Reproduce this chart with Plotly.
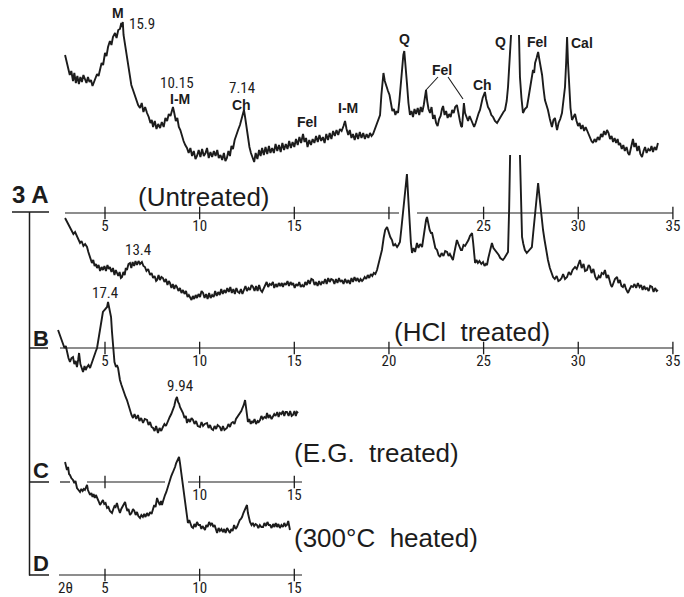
import plotly.graph_objects as go

W, H = 684, 597

# ---------------- data: 2-theta (deg) and intensity above each panel's base line ----------------
a_2theta = [2.89,2.98,3.06,3.14,3.22,3.31,3.38,3.46,3.54,3.62,3.70,3.78,3.86,3.94,4.02,4.10,4.18,4.26,4.34,4.42,
 4.50,4.58,4.66,4.74,4.82,4.90,5.00,5.08,5.16,5.26,5.34,5.42,5.53,5.61,5.70,5.79,5.86,5.90,5.94,5.98,
 6.06,6.13,6.21,6.30,6.39,6.48,6.57,6.66,6.75,6.85,6.94,7.03,7.12,7.22,7.31,7.40,7.47,7.54,7.63,7.72,
 7.81,7.91,8.00,8.10,8.19,8.28,8.37,8.46,8.52,8.59,8.66,8.74,8.82,8.90,8.98,9.06,9.15,9.24,9.33,9.42,
 9.51,9.60,9.69,9.78,9.86,9.95,10.04,10.13,10.22,10.31,10.39,10.48,10.57,10.66,10.75,10.84,10.93,11.01,11.10,11.19,
 11.28,11.36,11.44,11.52,11.60,11.68,11.76,11.85,11.94,12.03,12.13,12.22,12.29,12.34,12.40,12.47,12.55,12.63,12.71,12.80,
 12.88,12.96,13.05,13.14,13.22,13.30,13.39,13.48,13.57,13.66,13.74,13.83,13.92,14.01,14.10,14.19,14.28,14.37,14.46,14.55,
 14.64,14.73,14.82,14.91,15.00,15.09,15.18,15.27,15.36,15.46,15.54,15.62,15.70,15.79,15.88,15.97,16.06,16.15,16.24,16.33,
 16.42,16.51,16.60,16.69,16.78,16.87,16.96,17.05,17.14,17.23,17.32,17.41,17.50,17.60,17.68,17.76,17.85,17.93,18.02,18.10,
 18.19,18.28,18.37,18.46,18.55,18.64,18.73,18.82,18.91,19.00,19.08,19.16,19.25,19.34,19.43,19.53,19.60,19.66,19.71,19.78,
 19.86,19.95,20.03,20.10,20.18,20.26,20.34,20.41,20.48,20.55,20.63,20.70,20.76,20.81,20.87,20.95,21.03,21.11,21.19,21.27,
 21.35,21.43,21.52,21.60,21.68,21.76,21.84,21.91,21.96,22.02,22.09,22.17,22.25,22.33,22.41,22.49,22.57,22.65,22.73,22.80,
 22.86,22.94,23.02,23.10,23.18,23.26,23.34,23.42,23.50,23.59,23.67,23.75,23.81,23.86,23.91,23.96,24.02,24.10,24.18,24.26,
 24.34,24.42,24.50,24.58,24.66,24.74,24.81,24.88,24.95,25.01,25.07,25.13,25.23,25.32,25.41,25.50,25.60,25.71,25.80,25.88,
 25.96,26.05,26.13,26.22,26.29,26.37,26.45,None,26.87,26.92,27.00,27.08,27.18,27.29,27.37,27.45,27.53,27.61,27.67,27.72,
 27.80,27.88,27.96,28.03,28.09,28.16,28.24,28.32,28.40,28.50,28.61,28.69,28.77,28.83,28.88,28.96,29.05,29.14,29.22,29.30,
 29.36,29.41,29.46,29.51,29.59,29.67,29.75,29.83,29.91,29.99,30.07,30.15,30.23,30.31,30.39,30.46,30.54,30.62,30.70,30.78,
 30.86,30.94,31.03,31.12,31.20,31.28,31.36,31.44,31.52,31.60,31.68,31.76,31.84,31.92,32.00,32.08,32.14,32.21,32.30,32.38,
 32.46,32.55,32.63,32.70,32.76,32.82,32.89,32.96,33.04,33.12,33.20,33.28,33.37,33.45,33.53,33.61,33.70,33.79,33.87,33.95,
 34.03,34.12,34.21]
a_int = [158,150,146,138,142,132,140,130,137,129,136,131,138,133,130,136,131,133,127,131,
 136,139,137,144,150,148,160,157,166,172,168,176,180,175,183,184,190,186,191,178,
 168,158,146,136,128,123,118,112,108,105,110,101,106,100,96,90,93,86,92,84,
 89,85,91,86,95,92,99,97,102,106,100,92,95,86,83,77,72,68,65,60,
 65,57,62,54,57,63,56,64,57,60,65,55,61,56,62,57,63,55,58,53,
 60,52,55,62,57,67,64,73,79,83,88,95,100,103,96,86,75,66,60,55,
 51,60,54,63,57,65,58,66,59,67,60,65,60,69,62,68,61,70,63,69,
 64,72,65,71,66,74,68,76,70,79,71,75,66,73,68,74,70,77,71,78,
 72,76,70,79,73,80,74,82,77,83,78,84,82,87,92,84,78,83,75,79,
 73,80,74,81,75,80,74,79,75,80,77,79,84,88,92,98,118,135,140,132,
 126,122,118,108,102,104,98,102,100,112,132,148,158,162,150,130,110,98,102,96,
 104,99,105,98,106,101,108,116,123,112,104,100,106,94,98,90,87,94,97,104,
 107,98,102,95,99,96,103,100,106,108,98,92,87,86,98,110,100,95,92,97,
 93,88,86,90,96,100,103,110,115,118,121,114,106,103,98,96,92,90,93,96,
 99,101,103,112,126,150,178,None,178,136,115,100,104,106,115,126,135,143,140,150,
 155,161,152,145,138,125,113,108,103,94,86,93,95,88,83,90,94,100,112,126,
 150,176,150,126,105,93,96,99,92,87,90,84,88,82,86,83,78,75,72,70,
 74,71,76,73,79,76,82,78,83,80,74,77,71,75,70,74,68,70,64,68,
 62,66,60,58,64,70,74,66,70,62,67,59,56,62,66,60,64,62,67,61,
 66,63,70]

b_2theta = [2.89,2.97,3.05,3.15,3.24,3.33,3.42,3.52,3.60,3.68,3.76,3.86,3.95,4.05,4.12,4.19,4.25,4.31,4.38,4.45,
 4.52,4.58,4.66,4.74,4.82,4.89,4.97,5.05,5.13,5.20,5.26,5.34,5.42,5.50,5.57,5.63,5.70,5.77,5.84,5.90,
 5.97,6.04,6.10,6.16,6.24,6.32,6.39,6.46,6.54,6.61,6.69,6.77,6.85,6.95,7.03,7.11,7.19,7.28,7.38,7.46,
 7.54,7.62,7.70,7.75,7.83,7.90,7.98,8.06,8.14,8.22,8.30,8.37,8.43,8.51,8.58,8.66,8.73,8.80,8.88,8.96,
 9.04,9.12,9.20,9.28,9.36,9.43,9.49,9.57,9.64,9.71,9.79,9.86,9.94,10.02,10.10,10.18,10.26,10.34,10.42,10.50,
 10.58,10.66,10.74,10.82,10.90,10.98,11.06,11.14,11.22,11.30,11.38,11.46,11.54,11.62,11.70,11.78,11.86,11.94,12.02,12.10,
 12.18,12.26,12.34,12.42,12.50,12.58,12.66,12.74,12.82,12.90,12.98,13.06,13.14,13.22,13.30,13.38,13.46,13.54,13.62,13.70,
 13.78,13.87,13.94,14.02,14.10,14.18,14.26,14.34,14.40,14.48,14.56,14.64,14.72,14.80,14.88,14.94,15.02,15.10,15.18,15.26,
 15.34,15.42,15.50,15.58,15.66,15.74,15.82,15.90,15.99,16.07,16.15,16.23,16.31,16.39,16.47,16.55,16.63,16.71,16.79,16.87,
 16.95,17.04,17.12,17.20,17.28,17.36,17.44,17.52,17.60,17.68,17.78,17.86,17.94,18.02,18.10,18.18,18.26,18.34,18.42,18.50,
 18.58,18.63,18.72,18.80,18.88,18.96,19.04,19.12,19.20,19.28,19.37,19.46,19.55,19.63,19.72,19.80,19.90,19.98,20.07,20.16,
 20.24,20.33,20.43,20.50,20.58,20.66,20.74,20.80,20.88,20.95,21.02,21.09,21.16,21.22,21.30,21.38,21.48,21.56,21.65,21.75,
 21.82,21.90,21.96,22.01,22.08,22.15,22.22,22.28,22.36,22.45,22.54,22.62,22.70,22.78,22.88,22.97,23.07,23.15,23.22,23.30,
 23.38,23.45,23.52,23.59,23.67,23.74,23.80,23.86,23.94,24.02,24.12,24.20,24.28,24.35,24.39,24.45,24.50,24.55,24.62,24.70,
 24.78,24.88,24.97,25.05,25.12,25.18,25.25,25.33,25.38,25.44,25.52,25.60,25.71,25.80,25.88,25.95,26.02,26.10,26.18,26.25,
 26.29,26.35,26.40,None,26.92,26.97,27.03,27.10,27.18,27.28,27.36,27.45,27.55,27.62,27.68,27.72,27.80,27.88,27.96,28.05,
 28.14,28.22,28.30,28.40,28.50,28.58,28.67,28.76,28.86,28.95,29.04,29.12,29.20,29.30,29.41,29.50,29.60,29.70,29.83,29.92,
 30.00,30.09,30.18,30.28,30.36,30.46,30.55,30.62,30.70,30.80,30.90,30.99,31.08,31.16,31.24,31.33,31.41,31.50,31.58,31.66,
 31.72,31.78,31.86,31.94,32.05,32.12,32.20,32.28,32.36,32.44,32.52,32.58,32.63,32.72,32.80,32.89,32.97,33.06,33.15,33.24,
 33.32,33.40,33.48,33.55,33.63,33.72,33.80,33.90,33.98,34.06,34.14,34.21]
b_int = [130,127,124,121,118,114,116,111,108,105,107,102,104,101,96,92,88,85,88,82,
 84,80,83,77,81,78,82,77,83,79,81,76,80,73,78,75,72,76,70,71,
 76,73,80,78,84,85,80,86,82,87,83,87,84,86,82,81,77,79,73,75,
 70,72,67,68,73,68,71,70,66,69,63,67,65,60,64,59,63,61,57,60,
 55,58,54,57,51,53,51,48,52,49,53,50,54,51,57,55,50,54,49,55,
 50,53,51,57,52,56,53,59,54,58,55,60,56,61,55,59,54,60,56,55,
 59,54,58,62,57,60,58,63,61,57,62,57,63,58,56,60,62,66,61,64,
 63,66,60,64,61,65,62,65,61,65,63,67,62,66,63,65,60,64,62,66,
 61,63,61,66,63,68,64,69,68,63,66,62,67,63,66,65,69,64,70,66,
 69,68,64,69,65,70,66,68,64,69,65,68,64,70,66,71,67,70,66,69,
 67,68,71,69,73,70,74,72,75,74,78,84,90,98,110,118,121,115,111,108,
 102,104,101,103,106,120,135,148,165,174,150,125,105,95,100,96,105,100,104,101,
 110,122,128,131,124,118,115,115,108,100,98,93,91,95,92,97,96,92,94,90,
 88,95,102,108,104,100,98,98,103,102,105,108,112,115,115,105,92,85,88,85,
 87,84,86,82,84,83,90,98,103,105,100,98,96,93,90,89,88,90,93,95,
 96,140,193,None,193,140,111,104,98,95,97,99,101,115,128,138,152,165,150,132,
 118,108,98,88,80,75,71,69,72,67,68,70,74,69,71,76,73,78,81,79,
 84,88,80,84,77,78,83,81,75,79,71,68,72,70,75,74,78,70,73,66,
 63,61,66,69,71,65,68,62,61,64,59,57,55,59,62,61,64,60,65,61,
 63,58,62,59,60,57,62,61,56,60,57,58]

c_2theta = [2.52,2.60,2.68,2.78,2.86,2.93,2.99,3.07,3.15,3.23,3.31,3.38,3.45,3.52,3.58,3.63,3.70,3.77,3.84,3.92,
 3.98,4.05,4.13,4.21,4.29,4.37,4.45,4.52,4.58,4.66,4.74,4.82,4.89,4.97,5.04,5.11,5.16,5.24,5.32,5.37,
 5.42,5.50,5.58,5.63,5.69,5.74,5.79,5.87,5.95,6.02,6.09,6.16,6.24,6.32,6.40,6.48,6.56,6.65,6.74,6.82,
 6.91,7.01,7.10,7.22,7.30,7.38,7.46,7.54,7.62,7.70,7.80,7.88,7.97,8.06,8.14,8.22,8.33,8.42,8.50,8.59,
 8.66,8.73,8.80,8.86,8.92,8.96,9.04,9.12,9.20,9.27,9.33,9.41,9.49,9.57,9.65,9.73,9.81,9.90,10.02,10.10,
 10.18,10.27,10.39,10.47,10.55,10.63,10.71,10.79,10.87,10.95,11.07,11.15,11.23,11.31,11.44,11.52,11.60,11.68,11.76,11.84,
 11.92,12.00,12.07,12.13,12.20,12.26,12.33,12.40,12.45,12.50,12.55,12.62,12.70,12.76,12.82,12.90,12.98,13.06,13.12,13.19,
 13.26,13.34,13.42,13.50,13.56,13.63,13.70,13.80,13.87,13.94,14.01,14.10,14.17,14.24,14.32,14.40,14.47,14.54,14.61,14.70,
 14.78,14.86,14.93,15.01,15.08,15.14,15.20]
c_int = [152,148,144,140,134,136,130,124,120,124,125,118,121,115,122,129,118,113,110,116,
 112,115,117,114,119,124,128,131,134,143,152,162,170,172,174,175,180,172,165,150,
 135,120,115,117,114,106,102,97,92,89,85,82,76,72,67,64,68,63,67,61,
 64,59,63,62,57,60,55,54,51,56,49,54,51,55,58,56,62,65,68,72,
 76,82,85,80,78,75,72,69,64,66,59,63,60,64,62,58,61,56,55,60,
 56,58,59,54,57,53,52,56,53,57,55,51,56,52,54,58,55,59,60,58,
 63,65,67,69,71,74,77,82,72,64,60,63,58,61,59,63,58,61,60,62,
 66,63,65,64,69,64,67,63,65,68,66,70,65,69,68,71,66,70,70,66,
 71,66,67,71,66,70,69]

d_2theta = [2.89,2.94,2.99,3.05,3.10,3.15,3.22,3.31,3.38,3.44,3.52,3.60,3.68,3.75,3.82,3.88,3.94,4.00,4.05,4.10,
 4.15,4.21,4.28,4.34,4.40,4.46,4.52,4.58,4.66,4.74,4.81,4.89,4.96,5.03,5.11,5.18,5.26,5.32,5.37,5.44,
 5.50,5.56,5.63,5.70,5.75,5.79,5.86,5.93,6.00,6.06,6.12,6.18,6.24,6.32,6.40,6.48,6.55,6.62,6.69,6.76,
 6.85,6.92,7.00,7.07,7.14,7.22,7.30,7.38,7.46,7.54,7.60,7.67,7.75,7.82,7.90,7.96,8.01,8.07,8.12,8.17,
 8.24,8.30,8.37,8.43,8.50,8.57,8.64,8.70,8.76,8.84,8.91,8.96,9.02,9.07,9.13,9.18,9.23,9.30,9.38,9.45,
 9.52,9.58,9.65,9.72,9.79,9.86,9.94,10.02,10.09,10.15,10.22,10.28,10.35,10.42,10.50,10.58,10.65,10.72,10.79,10.86,
 10.92,11.00,11.07,11.15,11.23,11.30,11.37,11.45,11.52,11.60,11.67,11.74,11.82,11.90,11.97,12.05,12.12,12.18,12.24,12.31,
 12.38,12.44,12.50,12.55,12.61,12.66,12.74,12.81,12.88,12.96,13.03,13.10,13.18,13.26,13.35,13.42,13.50,13.58,13.65,13.72,
 13.80,13.88,13.95,14.02,14.09,14.16,14.24,14.32,14.40,14.47,14.54,14.61,14.68,14.73,14.77]
d_int = [113,108,105,108,101,100,97,95,92,94,87,85,83,86,84,86,85,88,90,85,
 82,80,82,78,81,77,80,78,74,70,72,75,71,72,67,68,64,63,62,66,
 69,68,72,67,64,62,66,69,71,73,68,64,66,60,62,66,64,60,63,59,
 57,60,58,61,58,62,59,63,61,65,70,68,77,73,70,74,70,74,78,80,
 83,87,91,95,99,102,105,108,112,116,118,112,103,95,86,78,72,62,52,55,
 50,48,47,51,48,53,50,50,46,49,47,45,50,48,53,50,52,48,50,45,
 42,47,44,46,43,46,42,47,44,42,46,44,50,46,48,52,55,56,58,62,
 65,68,70,62,56,53,50,52,49,51,50,47,50,48,48,52,49,53,50,50,
 47,51,48,52,48,51,47,50,48,52,49,50,54,48,45]

ab_ticks = [5, 10, 15, 20, 25, 30, 35]
a_ticklabels = ["5", "10", "15", "", "25", "30", "35"]
b_ticklabels = ["5", "10", "15", "20", "25", "30", "35"]
cd_ticks = [5, 10, 15]
c_ticklabels = ["", "10", "15"]
d_ticklabels = ["5", "10", "15"]

# ---------------- layout geometry (pixels of the 684x597 picture) ----------------
PX5, PXDEG = 105.0, 18.93                      # pixel of 2θ=5 and pixels per degree
XR = [5 - PX5 / PXDEG, 5 + (W - PX5) / PXDEG]   # x range covering the full width
BASES = [213, 348, 482, 575]                   # base-line pixel rows of panels A-D

def px_to_deg(px):
    return 5 + (px - PX5) / PXDEG

INK = "#1c1c1c"
NARROW = "Liberation Sans Narrow, Roboto Condensed, Liberation Sans, Arial"
SANS = "Liberation Sans, Arial, Helvetica"

panels = [
    dict(x=a_2theta, y=a_int, ticks=ab_ticks, labels=a_ticklabels,
         line=[(65, 399), (417, 673)]),
    dict(x=b_2theta, y=b_int, ticks=ab_ticks, labels=b_ticklabels,
         line=[(60, 673)]),
    dict(x=c_2theta, y=c_int, ticks=cd_ticks, labels=c_ticklabels,
         line=[(60, 70), (87, 165), (188, 302)]),
    dict(x=d_2theta, y=d_int, ticks=cd_ticks, labels=d_ticklabels,
         line=[(59, 302)]),
]

fig = go.Figure()
layout = dict(width=W, height=H, margin=dict(l=0, r=0, t=0, b=0, pad=0, autoexpand=False),
              template="none",
              paper_bgcolor="white", plot_bgcolor="white", showlegend=False)
shapes = []

for i, p in enumerate(panels):
    n = "" if i == 0 else str(i + 1)
    xa, ya = "x" + n, "y" + n
    base = BASES[i]
    fig.add_trace(go.Scatter(x=p["x"], y=p["y"], mode="lines", xaxis=xa, yaxis=ya,
                             line=dict(color=INK, width=1.9), connectgaps=False,
                             hoverinfo="skip"))
    fig.add_trace(go.Scatter(x=p["ticks"], y=[0] * len(p["ticks"]), mode="markers",
                             xaxis=xa, yaxis=ya, hoverinfo="skip",
                             marker=dict(symbol="line-ns", size=9,
                                         line=dict(color=INK, width=1.3))))
    for (p0, p1) in p["line"]:
        shapes.append(dict(type="line", xref=xa, yref=ya, x0=px_to_deg(p0), x1=px_to_deg(p1),
                           y0=0, y1=0, line=dict(color=INK, width=1.2)))
    xdef = dict(range=XR, domain=[0, 1], anchor="free", position=1 - base / H,
                automargin=False,
                showline=False, showgrid=False, zeroline=False, ticks="",
                tickmode="array", tickvals=p["ticks"], ticktext=p["labels"],
                tickfont=dict(family=NARROW, size=15, color=INK),
                ticklabelstandoff=2)
    ydef = dict(range=[-(H - base), base], domain=[0, 1], visible=False,
                automargin=False, showgrid=False, zeroline=False)
    if i > 0:
        xdef["overlaying"] = "x"
        ydef["overlaying"] = "y"
    layout["xaxis" + n] = xdef
    layout["yaxis" + n] = ydef

def pxx(x):
    return x / W

def pxy(y):
    return 1 - y / H

# left bracket and label stubs
shapes.append(dict(type="line", xref="paper", yref="paper", x0=pxx(29.5), x1=pxx(29.5),
                   y0=pxy(212), y1=pxy(575.5), line=dict(color=INK, width=1.5)))
for (x0, x1, y) in [(12, 49, 212), (29.5, 48, 348), (29.5, 49, 482), (29, 49, 575)]:
    shapes.append(dict(type="line", xref="paper", yref="paper", x0=pxx(x0), x1=pxx(x1),
                       y0=pxy(y), y1=pxy(y), line=dict(color=INK, width=1.5)))
# Fel leader lines
for (x0, y0, x1, y1) in [(438, 77, 426, 90), (448, 77, 463, 99)]:
    shapes.append(dict(type="line", xref="paper", yref="paper", x0=pxx(x0), x1=pxx(x1),
                       y0=pxy(y0), y1=pxy(y1), line=dict(color=INK, width=1.1)))
layout["shapes"] = shapes

annotations = []
def note(text, x, y, size, family=SANS, bold=False, anchor="center"):
    t = "<b>%s</b>" % text if bold else text
    annotations.append(dict(text=t, x=pxx(x), y=pxy(y), xref="paper", yref="paper",
                            xanchor=anchor, yanchor="middle", showarrow=False,
                            font=dict(family=family, size=size, color=INK)))

for (t, x, y) in [("M", 118, 13), ("I-M", 180, 99), ("Ch", 241, 105), ("Fel", 307, 122),
                  ("I-M", 348, 108), ("Q", 405, 39), ("Fel", 442, 70), ("Ch", 482, 85),
                  ("Q", 500, 42), ("Fel", 537, 42), ("Cal", 582, 43)]:
    note(t, x, y, 14, bold=True)
for (t, x, y) in [("15.9", 142, 24), ("10.15", 177, 83), ("7.14", 242, 88),
                  ("13.4", 138, 250), ("17.4", 105, 293), ("9.94", 180, 386)]:
    note(t, x, y, 15, family=NARROW)

note("(Untreated)", 204, 197, 26)
note("(HCl&nbsp;&nbsp;treated)", 472, 332, 26)
note("(E.G.&nbsp;&nbsp;treated)", 292, 453, 26, anchor="left")
note("(300°C&nbsp;&nbsp;heated)", 292, 538, 26, anchor="left")
note("3 A", 30, 195, 24, bold=True)
note("B", 41, 338, 22, bold=True)
note("C", 41, 470, 22, bold=True)
note("D", 41, 563, 22, bold=True)
note("2θ", 65, 588, 15, family=NARROW)
layout["annotations"] = annotations

fig.update_layout(**layout)
fig.write_html("out.html", config={"displayModeBar": False},
               post_script="document.body.style.margin='0';document.body.style.padding='0';"
                           "document.body.style.overflow='hidden';")
